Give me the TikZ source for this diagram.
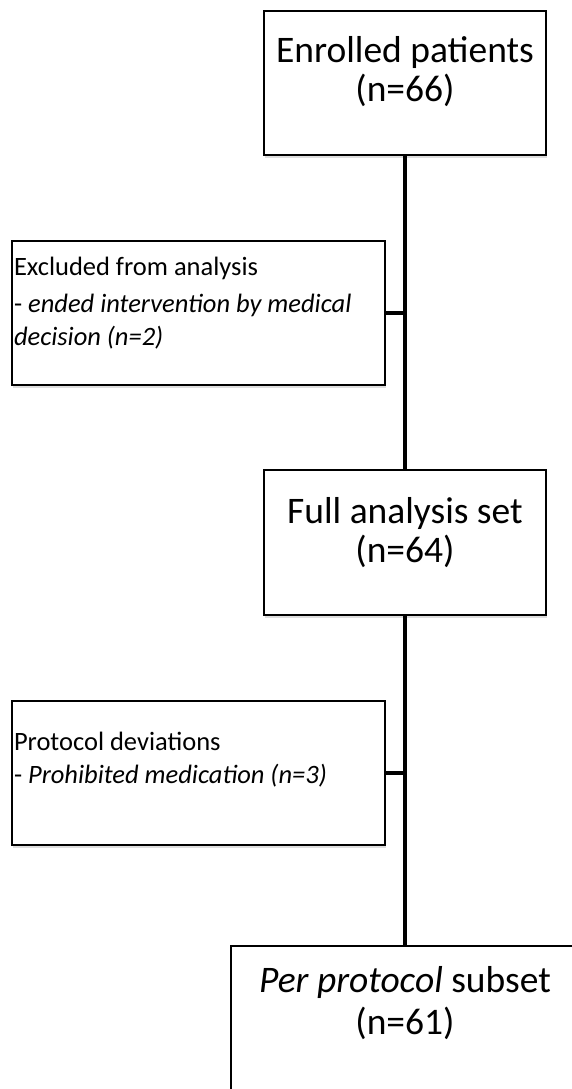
\documentclass[tikz,border=0pt]{standalone}
\usepackage{fontspec}
\setmainfont{Carlito}
\usetikzlibrary{shadows}
\newcommand{\mainsize}{\fontsize{37.5}{39}\selectfont}
\newcommand{\notesize}{\fontsize{26.5}{33}\selectfont}
\begin{document}
\begin{tikzpicture}
            [x=1pt,y=-1pt,
             every node/.style={draw=black,line width=1.5pt,fill=white,inner sep=0pt,
               drop shadow={shadow xshift=1pt,shadow yshift=-3pt,fill=black!25}},
             link/.style={line width=3.5pt}]
            \useasboundingbox (0,0) rectangle (572,1089);
            \clip (0,0) rectangle (572,1089);
            \fill[white] (0,0) rectangle (572,1089);

            \node (enrolled) at (405,83) {\parbox[c][144pt][t]{282pt}{\centering\mainsize\rule{0pt}{52pt}Enrolled patients\\(n=66)}};
            \node[inner xsep=2pt] (excluded) at (198.5,313) {\parbox[c][144pt][t]{369pt}{\raggedright\notesize\rule{0pt}{34pt}Excluded from analysis\\[4pt]- \textit{ended intervention by medical}\\\textit{decision (n=2)}}};
            \node (analysis) at (405,542.5) {\parbox[c][145pt][t]{282pt}{\centering\mainsize\rule{0pt}{53pt}Full analysis set\\(n=64)}};
            \node[inner xsep=2pt] (deviations) at (198.5,773) {\parbox[c][144pt][t]{369pt}{\raggedright\notesize\rule{0pt}{49pt}Protocol deviations\\- \textit{Prohibited medication (n=3)}}};
            \node (perprotocol) at (405,1019) {\parbox[c][146pt][t]{348pt}{\centering\mainsize\rule{0pt}{46pt}\textit{Per protocol} subset\\[3pt](n=61)}};

            \foreach \from/\to in {enrolled/analysis, analysis/perprotocol} \draw[link] (\from) -- (\to);
            \foreach \side/\main in {excluded/enrolled, deviations/analysis} \draw[link] (\side.east) -- (\side.east -| \main.south);
        \end{tikzpicture}
\end{document}
